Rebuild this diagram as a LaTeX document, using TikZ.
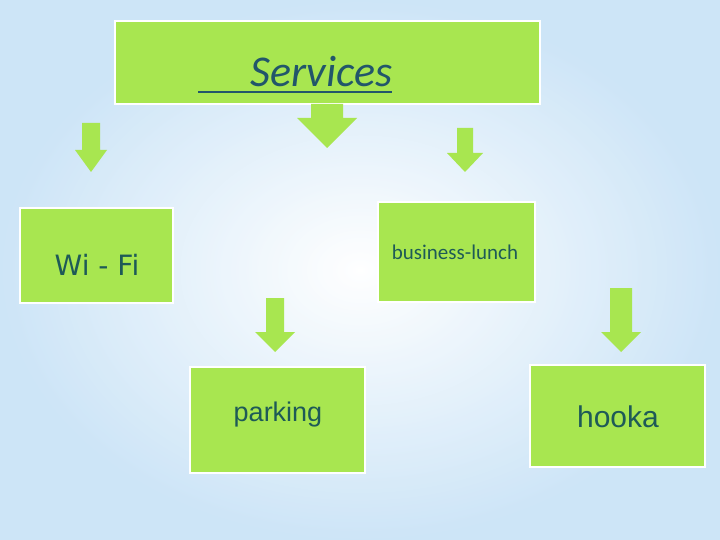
\documentclass[tikz,border=0pt]{standalone}
\usepackage{fontspec}
\setmainfont{Liberation Sans}
\newfontfamily\gillfont{Carlito}
\newfontfamily\verdfont{DejaVu Sans}
\usetikzlibrary{fadings}
\definecolor{boxgreen}{HTML}{A8E650}
\definecolor{txtteal}{HTML}{1E5A57}
\definecolor{svcblue}{HTML}{22566A}
\definecolor{bgblue}{HTML}{B8DAF4}
\tikzfading[name=vband, top color=transparent!100, middle color=transparent!0, bottom color=transparent!100]
\tikzset{
  box/.style={fill=boxgreen, draw=white, line width=1.5pt},
  lbl/.style={text=txtteal, inner sep=0pt},
  barrow/.style={fill=boxgreen, draw=none}
}
\newcommand\blockarr[6]{% cx, ytop, yhead, ytip, half shaft, half head
  \fill[barrow] ({#1-#5},#2) -- ({#1+#5},#2) -- ({#1+#5},#3) -- ({#1+#6},#3)
    -- (#1,#4) -- ({#1-#6},#3) -- ({#1-#5},#3) -- cycle;}
\begin{document}
\begin{tikzpicture}[x=1pt,y=-1pt]
\useasboundingbox (0,0) rectangle (720,540);
\shade[inner color=white, outer color=bgblue] (0,0) rectangle (720,540);
\fill[white, opacity=0.3] (0,0) rectangle (720,540);
\fill[bgblue, opacity=0.45, path fading=vband] (0,350) rectangle (720,410);
% boxes
\path[box] (115,21) rectangle (540,104);
\path[box] (20,208) rectangle (173,303);
\path[box] (378,202) rectangle (535,302);
\path[box] (190,367) rectangle (365,473);
\path[box] (530,365) rectangle (705,467);
% arrows
\blockarr{327}{104}{118}{148}{16}{30}
\blockarr{91}{123}{150}{172}{9}{16}
\blockarr{465}{128}{153}{172}{8}{18}
\blockarr{275}{298}{332}{352}{9}{20}
\blockarr{621}{288}{332}{352}{11}{20}
% texts
\node[lbl, anchor=base east, font=\gillfont\itshape\fontsize{44}{46}\selectfont, text=svcblue] (svct) at (393,87) {Services};
\draw[line width=2.5pt, svcblue] (198,92) -- (392,92);
\node[lbl, font=\verdfont\fontsize{28}{30}\selectfont] (wifi) at (97,265) {Wi - Fi};
\node[lbl, font=\gillfont\fontsize{21}{23}\selectfont] (bl) at (455,252) {business-lunch};
\node[lbl, font=\fontsize{27}{29}\selectfont] (park) at (278,415) {parking};
\node[lbl, font=\fontsize{30}{32}\selectfont] (hook) at (618,417) {hooka};
\end{tikzpicture}
\end{document}
